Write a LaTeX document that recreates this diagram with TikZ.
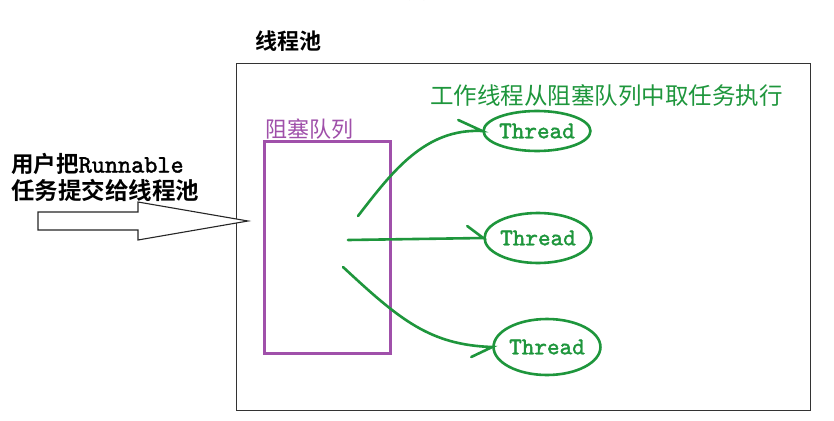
\documentclass[tikz,border=0pt]{standalone}
\usepackage{fontspec}
\setmainfont{Liberation Serif}
\newfontfamily\cjk{Noto Sans CJK SC}
\newfontfamily\cjkb{Noto Sans CJK SC Bold}
\newfontfamily\monob[FakeBold=1.6]{lmmono10-regular.otf}
\usetikzlibrary{arrows.meta,shapes.geometric}
\definecolor{gr}{RGB}{30,150,60}
\definecolor{pu}{RGB}{160,80,170}
\tikzset{
  thr/.style={draw=gr,line width=2.6pt,ellipse,inner sep=0pt,text=gr,font=\monob\fontsize{24}{24}\selectfont},
  garrow/.style={draw=gr,line width=2.6pt,line cap=round},
}
\begin{document}
\begin{tikzpicture}[x=1pt,y=-1pt]
\useasboundingbox[fill=white] (0,0) rectangle (834,420);
% screenshot artifact
\draw[gray!60,line width=0.8pt] (409,0) arc[start angle=180,end angle=360,x radius=7.5,y radius=5];
% title
\node[anchor=west,inner sep=0pt,font=\cjkb\fontsize{22}{22}\selectfont] (title) at (255,41) {线程池};
% pool
\node[draw=black!80,line width=1.4pt,minimum width=574pt,minimum height=347pt,anchor=north west,inner sep=0pt] (pool) at (236,63) {};
% queue
\node[anchor=west,inner sep=0pt,text=pu,font=\cjk\fontsize{22}{22}\selectfont] (qlabel) at (265,129) {阻塞队列};
\node[draw=pu,line width=3pt,minimum width=126pt,minimum height=212pt,anchor=north west,inner sep=0pt] (q) at (263,140) {};
% green caption
\node[anchor=west,inner sep=0pt,text=gr,font=\cjk\fontsize{23.5}{23.5}\selectfont] (cap) at (430,96) {工作线程从阻塞队列中取任务执行};
% threads
\node[thr,minimum width=102pt,minimum height=40pt] (t1) at (537,131) {Thread};
\node[thr,minimum width=102pt,minimum height=50pt] (t2) at (538,238) {Thread};
\node[thr,minimum width=106pt,minimum height=56pt] (t3) at (547,347) {Thread};
\coordinate (s1) at (358,216);
\coordinate (s2) at (348,240);
\coordinate (s3) at (343,267);
\draw[garrow] (s1) .. controls (392,172) and (425,128) .. (t1.west) -- ++(-24,-11);
\draw[garrow] (s2) -- (t2.west) -- ++(-16,-12);
\draw[garrow] (s3) .. controls (400,320) and (430,345) .. (t3.west) -- ++(-21,10);
% user text
\node[anchor=west,inner sep=0pt,font=\cjkb\fontsize{22.5}{22.5}\selectfont] (u1) at (11,164) {用户把{\monob\fontsize{25}{25}\selectfont Runnable}};
\node[anchor=west,inner sep=0pt,font=\cjkb\fontsize{23.5}{23.5}\selectfont] (u2) at (11,190) {任务提交给线程池};
% hollow arrow
\coordinate (tip) at (248,221);
\draw[black!85,line width=1.1pt,fill=white] (38,212) -- (138,212) -- (138,202) -- (tip) -- (138,240) -- (138,230) -- (38,230) -- cycle;
\end{tikzpicture}
\end{document}
